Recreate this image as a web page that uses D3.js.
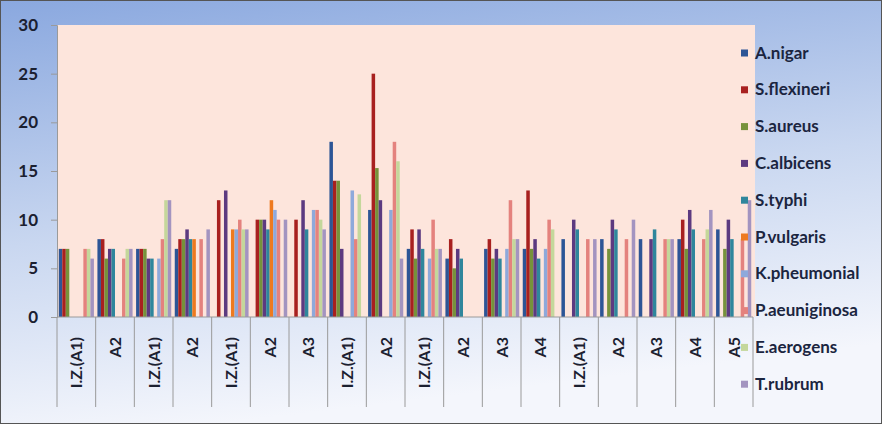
<!DOCTYPE html>
<html><head><meta charset="utf-8">
<script src="https://cdn.jsdelivr.net/npm/d3@7"></script>
<style>
html,body{margin:0;padding:0;background:#fff;}
svg text{font-family:Lato,"Liberation Sans",sans-serif;}
</style></head>
<body><svg id="c" width="882" height="424"></svg>
<script>
const categories = ["I.Z.(A1)","A2","I.Z.(A1)","A2","I.Z.(A1)","A2","A3","I.Z.(A1)","A2","I.Z.(A1)","A2","A3","A4","I.Z.(A1)","A2","A3","A4","A5"];
const seriesNames = ["A.nigar","S.flexineri","S.aureus","C.albicens","S.typhi","P.vulgaris","K.pheumonial","P.aeuniginosa","E.aerogens","T.rubrum"];
const colors = ["#2d5596","#a8201f","#76923b","#5c3a80","#2f869c","#ee7a1f","#8ea9db","#e4827e","#c4d79b","#a394c0"];
const aNigar       = [7,8,7,7,0,0,0,18,11,7,6,7,7,8,8,8,8,9];
const sFlexineri   = [7,8,7,8,12,10,10,14,25,9,8,8,13,0,0,0,10,0];
const sAureus      = [7,6,7,8,0,10,0,14,15.3,6,5,6,7,0,7,0,7,7];
const cAlbicens    = [0,7,6,9,13,10,12,7,12,9,7,7,8,10,10,8,11,10];
const sTyphi       = [0,7,6,8,0,9,9,0,0,7,6,6,6,9,9,9,9,8];
const pVulgaris    = [0,0,0,8,9,12,0,0,0,0,0,0,0,0,0,0,0,0];
const kPheumonial  = [0,0,6,0,9,11,11,13,11,6,0,7,7,0,0,0,0,0];
const pAeuniginosa = [7,6,8,8,10,10,11,8,18,10,0,12,10,8,8,8,8,8];
const eAerogens    = [7,7,12,0,9,0,10,12.6,16,7,0,8,9,0,0,8,9,0];
const tRubrum      = [6,7,12,9,9,10,9,0,6,7,0,8,0,8,10,8,11,12];
const yTicks = [0,5,10,15,20,25,30];
const values = [aNigar,sFlexineri,sAureus,cAlbicens,sTyphi,pVulgaris,kPheumonial,pAeuniginosa,eAerogens,tRubrum];

const svg = d3.select("#c");
const W = 882, H = 424;
const defs = svg.append("defs");
const bg = defs.append("linearGradient").attr("id","bg").attr("x1","0").attr("y1","0").attr("x2","0.25").attr("y2","1");
bg.append("stop").attr("offset","0").attr("stop-color","#8aa8df");
bg.append("stop").attr("offset","0.55").attr("stop-color","#c9d7f0");
bg.append("stop").attr("offset","1").attr("stop-color","#f4f6fc");
svg.append("rect").attr("x",0.5).attr("y",0.5).attr("width",W-1).attr("height",H-1)
  .attr("fill","url(#bg)").attr("stroke","#555").attr("stroke-width",1);

const L = 57, R = 753, T = 25, B = 317;
const x0 = d3.scaleBand().domain(d3.range(categories.length)).range([L,R]).paddingInner(0).paddingOuter(0);
const x1 = d3.scaleBand().domain(d3.range(seriesNames.length)).range([0,x0.bandwidth()]).paddingInner(0).paddingOuter(0.5);
const y = d3.scaleLinear().domain([0,30]).range([B,T]);

svg.append("rect").attr("x",L).attr("y",T).attr("width",755-L).attr("height",B-T).attr("fill","#fde5dc");

// bars
const g = svg.append("g");
values.forEach((arr,si)=>{
  g.selectAll(null).data(arr.map((v,ci)=>({v,ci}))).enter().filter(d=>d.v>0)
   .append("rect")
   .attr("x",d=>x0(d.ci)+x1(si))
   .attr("y",d=>y(d.v))
   .attr("width",x1.bandwidth())
   .attr("height",d=>B-y(d.v))
   .attr("fill",colors[si]);
});

// y axis
const ya = d3.axisLeft(y).tickValues(yTicks).tickSize(6).tickPadding(13).tickFormat(d3.format("d"));
const yg = svg.append("g").attr("transform",`translate(${L},0)`).call(ya);
yg.select(".domain").attr("stroke","#9a9a9a");
yg.selectAll(".tick line").attr("stroke","#9a9a9a");
yg.selectAll(".tick text").attr("font-size",17).attr("font-weight",700).attr("fill","#1b2030").style("font-family","Lato,sans-serif");

// x axis line
svg.append("line").attr("x1",L).attr("x2",R).attr("y1",B).attr("y2",B).attr("stroke","#9a9a9a");
// category separators
const seps = d3.range(categories.length+1);
svg.selectAll(".sep").data(seps).enter().append("line")
  .attr("x1",i=>i<categories.length?x0(i):R).attr("x2",i=>i<categories.length?x0(i):R)
  .attr("y1",B).attr("y2",407).attr("stroke","#9a9a9a");
// category labels
svg.selectAll(".cl").data(categories).enter().append("text")
  .attr("transform",(d,i)=>`translate(${x0(i)+x0.bandwidth()/2+6},337) rotate(-90)`)
  .attr("text-anchor","end").attr("font-size",16).attr("font-weight",700).attr("fill","#1b2030")
  .text(d=>d);

// legend
const lg = svg.append("g");
seriesNames.forEach((n,i)=>{
  const cy = 53 + i*36.8;
  lg.append("rect").attr("x",741).attr("y",cy-3.5).attr("width",7).attr("height",7).attr("fill",colors[i]);
  lg.append("text").attr("x",755).attr("y",cy+5.5).attr("font-size",17).attr("font-weight",700)
    .attr("fill","#1b2540").text(n);
});
</script></body></html>
